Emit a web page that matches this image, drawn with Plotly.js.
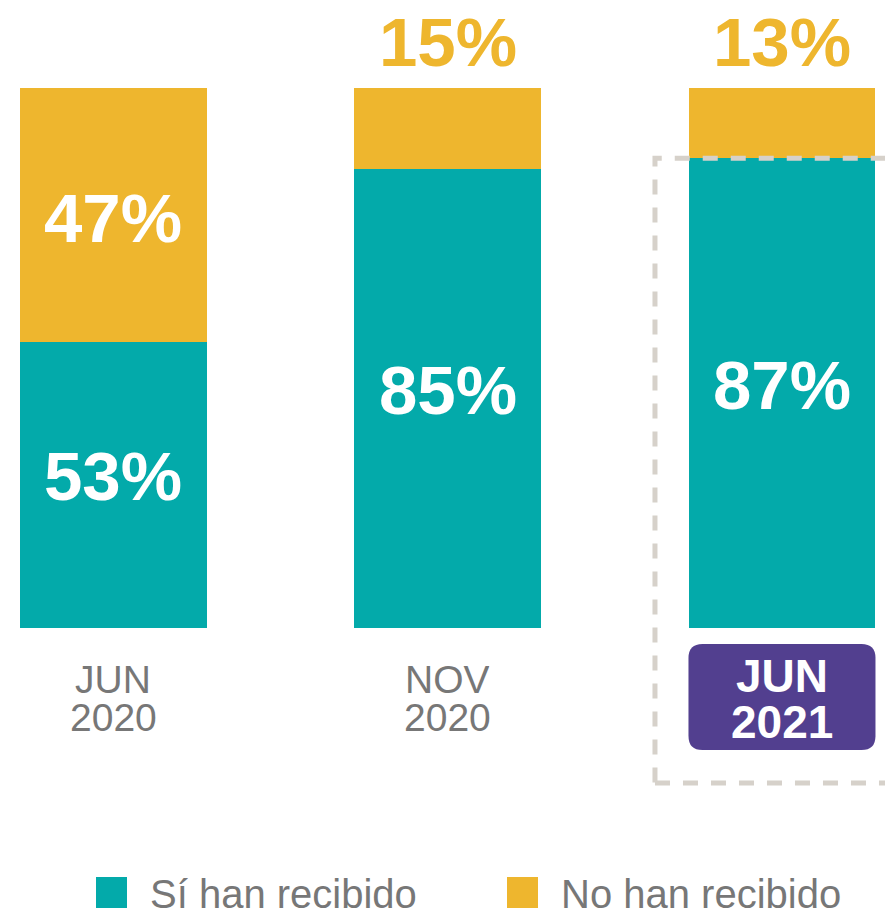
<!DOCTYPE html>
<html>
<head>
<meta charset="utf-8">
<script src="https://cdn.plot.ly/plotly-3.0.1.min.js"></script>
<style>html,body{margin:0;padding:0;background:#fff;}#chart{width:885px;height:908px;}</style>
</head>
<body>
<div id="chart"></div>
<script>
// ---- data ----
var categories = ["JUN 2020", "NOV 2020", "JUN 2021"];
var categoryLines = [["JUN", "2020"], ["NOV", "2020"], ["JUN", "2021"]];
var seriesNames = ["Sí han recibido", "No han recibido"];
var siValues = [53, 85, 87];
var noValues = [47, 15, 13];
var highlightIndex = 2;

// ---- styles ----
var TEAL = "#03AAAA", YELLOW = "#EEB62E", PURPLE = "#523F8F", GRAY = "#777777", DASH = "#D6D1CA";
var W = 885, H = 908;
var SANS = "Liberation Sans, Arial, sans-serif";

var traces = [
  {type: "bar", name: seriesNames[0], x: categories, y: siValues, marker: {color: TEAL}, width: 0.559, hoverinfo: "none", showlegend: false},
  {type: "bar", name: seriesNames[1], x: categories, y: noValues, marker: {color: YELLOW}, width: 0.559, hoverinfo: "none", showlegend: false}
];

var ann = [];
var shapes = [];
for (var i = 0; i < categories.length; i++) {
  ann.push({x: categories[i], y: siValues[i] / 2, xref: "x", yref: "y", text: siValues[i] + "%", showarrow: false,
    yshift: 8, font: {family: SANS, size: 69, color: "#ffffff", weight: 700}});
  if (noValues[i] >= 20) {
    ann.push({x: categories[i], y: siValues[i] + noValues[i] / 2, xref: "x", yref: "y", text: noValues[i] + "%", showarrow: false,
      yshift: -4, font: {family: SANS, size: 69, color: "#ffffff", weight: 700}});
  } else {
    ann.push({x: categories[i], y: siValues[i] + noValues[i], xref: "x", yref: "y", text: noValues[i] + "%", showarrow: false,
      yanchor: "middle", yshift: 46, font: {family: SANS, size: 69, color: YELLOW, weight: 700}});
  }
  var hl = (i === highlightIndex);
  var shifts = hl ? [-48, -94] : [-51, -89];
  for (var k = 0; k < categoryLines[i].length; k++) {
    ann.push({x: categories[i], y: 0, xref: "x", yref: "y", text: categoryLines[i][k], showarrow: false,
      yanchor: "middle", yshift: shifts[k], height: hl ? 40 : 34,
      font: {family: SANS, size: hl ? 46 : 39, color: hl ? "#ffffff" : GRAY, weight: hl ? 700 : 400}});
  }
  if (hl) {
    // rounded purple label box (pixel sized, anchored at the category)
    var w2 = 93.5, h2 = 53, r = 14;
    var p = "M" + (-w2 + r) + "," + (-h2) + " L" + (w2 - r) + "," + (-h2) +
      " Q" + w2 + "," + (-h2) + " " + w2 + "," + (-h2 + r) +
      " L" + w2 + "," + (h2 - r) + " Q" + w2 + "," + h2 + " " + (w2 - r) + "," + h2 +
      " L" + (-w2 + r) + "," + h2 + " Q" + (-w2) + "," + h2 + " " + (-w2) + "," + (h2 - r) +
      " L" + (-w2) + "," + (-h2 + r) + " Q" + (-w2) + "," + (-h2) + " " + (-w2 + r) + "," + (-h2) + " Z";
    shapes.push({type: "path", xref: "x", yref: "y", xsizemode: "pixel", ysizemode: "pixel",
      xanchor: i, yanchor: -69 / 5.4, path: p, fillcolor: PURPLE, line: {width: 0}, layer: "below"});
    // dashed highlight frame
    shapes.push({type: "rect", xref: "x", yref: "y", xsizemode: "pixel", xanchor: i, x0: -127, x1: 110,
      y0: -28.7, y1: siValues[i], line: {color: DASH, width: 5, dash: "15px,13px"}, fillcolor: "rgba(0,0,0,0)", layer: "above"});
  }
}

// custom legend
var legendColors = [TEAL, YELLOW];
var legendX = [96, 507];
for (var j = 0; j < seriesNames.length; j++) {
  shapes.push({type: "rect", xref: "paper", yref: "paper", x0: legendX[j] / W, x1: (legendX[j] + 31) / W,
    y0: 1 - 908 / H, y1: 1 - 877 / H, fillcolor: legendColors[j], line: {width: 0}});
  ann.push({xref: "paper", yref: "paper", x: (legendX[j] + 52) / W, y: 1 - 870 / H, xanchor: "left", yanchor: "top",
    text: seriesNames[j], showarrow: false, font: {family: SANS, size: 40, color: GRAY}});
}

var layout = {
  width: W, height: H, margin: {l: 0, r: 0, t: 0, b: 0},
  paper_bgcolor: "#ffffff", plot_bgcolor: "#ffffff",
  barmode: "stack", showlegend: false,
  xaxis: {type: "category", range: [-0.338, 2.308], visible: false, fixedrange: true},
  yaxis: {range: [-51.85, 116.3], visible: false, fixedrange: true},
  annotations: ann, shapes: shapes
};
Plotly.newPlot("chart", traces, layout, {staticPlot: true, displayModeBar: false});
</script>
</body>
</html>
